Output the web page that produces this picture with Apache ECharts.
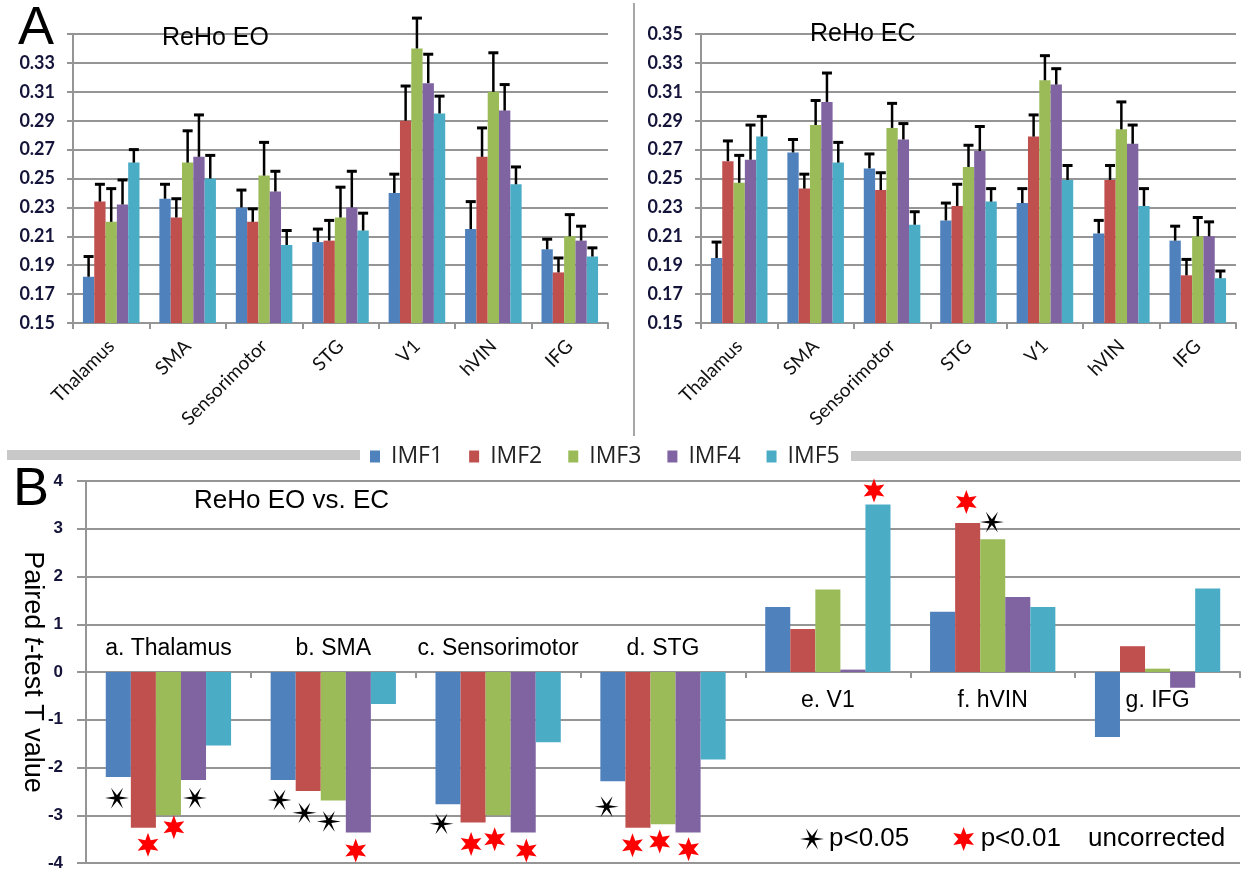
<!DOCTYPE html>
<html><head><meta charset="utf-8">
<script src="https://cdn.jsdelivr.net/npm/echarts@6/dist/echarts.min.js"></script>
<style>html,body{margin:0;padding:0;background:#fff}#c{width:1241px;height:869px}</style>
</head><body><div id="c"></div>
<script>
// ---------- data ----------
const regions = ['Thalamus', 'SMA', 'Sensorimotor', 'STG', 'V1', 'hVIN', 'IFG'];
const panelBLabels = ['a. Thalamus', 'b. SMA', 'c. Sensorimotor', 'd. STG', 'e. V1', 'f. hVIN', 'g. IFG'];
const imfNames = ['IMF1', 'IMF2', 'IMF3', 'IMF4', 'IMF5'];

// ReHo EO: mean per IMF (rows) and region (columns), and top of error bar
const eoMean = [
  [0.182, 0.236, 0.230, 0.206, 0.240, 0.215, 0.201],
  [0.234, 0.223, 0.220, 0.207, 0.290, 0.265, 0.185],
  [0.220, 0.261, 0.252, 0.223, 0.340, 0.310, 0.210],
  [0.232, 0.265, 0.241, 0.230, 0.316, 0.297, 0.207],
  [0.261, 0.250, 0.204, 0.214, 0.295, 0.246, 0.196]
];
const eoErrTop = [
  [0.196, 0.246, 0.242, 0.215, 0.253, 0.234, 0.208],
  [0.246, 0.236, 0.229, 0.221, 0.314, 0.285, 0.195],
  [0.243, 0.283, 0.275, 0.244, 0.361, 0.337, 0.225],
  [0.249, 0.294, 0.255, 0.255, 0.336, 0.315, 0.217],
  [0.270, 0.266, 0.214, 0.226, 0.307, 0.258, 0.202]
];
// ReHo EC
const ecMean = [
  [0.195, 0.268, 0.257, 0.221, 0.233, 0.212, 0.207],
  [0.262, 0.243, 0.242, 0.231, 0.279, 0.249, 0.183],
  [0.247, 0.287, 0.285, 0.258, 0.318, 0.284, 0.210],
  [0.263, 0.303, 0.277, 0.269, 0.315, 0.274, 0.210],
  [0.279, 0.261, 0.218, 0.234, 0.249, 0.231, 0.181]
];
const ecErrTop = [
  [0.206, 0.277, 0.267, 0.233, 0.243, 0.221, 0.217],
  [0.276, 0.253, 0.254, 0.246, 0.294, 0.259, 0.194],
  [0.266, 0.304, 0.302, 0.273, 0.335, 0.303, 0.223],
  [0.287, 0.323, 0.288, 0.286, 0.326, 0.287, 0.220],
  [0.293, 0.275, 0.227, 0.243, 0.259, 0.243, 0.186]
];
// Paired t-test T values (EO vs EC)
const tValues = [
  [-2.20, -2.26, -2.77, -2.29, 1.36, 1.26, -1.36],
  [-3.26, -2.49, -3.15, -3.26, 0.90, 3.12, 0.54],
  [-3.00, -2.69, -3.00, -3.19, 1.73, 2.78, 0.07],
  [-2.26, -3.36, -3.36, -3.36, 0.05, 1.57, -0.33],
  [-1.54, -0.67, -1.47, -1.83, 3.51, 1.36, 1.75]
];
// significance markers [region position, T]
const sigP05 = [[-0.312, -2.64], [0.161, -2.64], [0.674, -2.68], [0.825, -2.95], [0.973, -3.13],
                [1.656, -3.18], [2.658, -2.82], [4.995, 3.14]];
const sigP01 = [[-0.124, -3.62], [0.033, -3.25], [1.136, -3.74], [1.836, -3.60], [1.979, -3.50],
                [2.171, -3.74], [2.815, -3.63], [2.980, -3.55], [3.155, -3.71], [4.280, 3.80], [4.840, 3.56]];
// tick settings
const yTicksA = [0.15, 0.35, 0.02];
const yTicksB = [-4, 4, 1];

// ---------- styles ----------
const colors = ['#4F81BD', '#C0504D', '#9BBB59', '#8064A2', '#4BACC6'];
const gridLine = '#959595';
const gapA = 0.26, gapB = 0.24;
const labelBAbove = 0.48, labelBBelow = -0.59;

function starPath(rIn, a0) {
  let s = '';
  for (let i = 0; i < 12; i++) {
    const a = a0 + i * Math.PI / 6;
    const r = (i % 2) ? rIn : 1;
    s += (i ? 'L' : 'M') + (50 + 50 * r * Math.cos(a)).toFixed(2) + ' ' + (50 + 50 * r * Math.sin(a)).toFixed(2) + ' ';
  }
  return 'path://' + s + 'Z';
}
const asteriskSym = starPath(0.24, 0);
const starSym = starPath(0.45, -Math.PI / 2);

function errRender(gap) {
  return function (params, api) {
    const c = api.value(0), k = api.value(1), v = api.value(2), e = api.value(3);
    const band = api.size([1, 0])[0];
    const off = (-(1 - gap) / 2 + (1 - gap) / 5 * (k + 0.5)) * band;
    const p0 = api.coord([c, v]), p1 = api.coord([c, e]);
    const x = p0[0] + off;
    return {
      type: 'group', children: [
        { type: 'line', shape: { x1: x, y1: p0[1], x2: x, y2: p1[1] }, style: { stroke: '#000', lineWidth: 2.5 } },
        { type: 'line', shape: { x1: x - 5, y1: p1[1], x2: x + 5, y2: p1[1] }, style: { stroke: '#000', lineWidth: 3 } }
      ]
    };
  };
}
function errData(mean, top) {
  const d = [];
  for (let k = 0; k < 5; k++) for (let i = 0; i < regions.length; i++) d.push([i, k, mean[k][i], top[k][i]]);
  return d;
}

function catAxisTop(g) {
  return {
    type: 'category', gridIndex: g, data: regions, boundaryGap: true,
    axisLine: { show: true, lineStyle: { color: gridLine, width: 2 } },
    axisTick: { show: true, length: 6, interval: 0, lineStyle: { color: gridLine, width: 2 } },
    axisLabel: { interval: 0, rotate: 45, fontSize: 19, fontFamily: 'Lato', color: '#111', margin: 20 },
    splitLine: { show: false }
  };
}
function valAxisTop(g, hideTop) {
  return {
    type: 'value', gridIndex: g, min: yTicksA[0], max: yTicksA[1], interval: yTicksA[2], startValue: yTicksA[0],
    axisLine: { show: true, lineStyle: { color: gridLine, width: 2 } },
    axisTick: { show: true, length: 6, lineStyle: { color: gridLine, width: 2 } },
    splitLine: { show: true, lineStyle: { color: gridLine, width: 2 } },
    axisLabel: {
      margin: 18, fontSize: 18, fontWeight: 'bold', fontFamily: 'Lato', color: '#14143a',
      showMinLabel: true, showMaxLabel: true,
      formatter: v => (hideTop && Math.abs(v - yTicksA[1]) < 1e-6) ? '' : v.toFixed(2)
    }
  };
}

const series = [];
for (let k = 0; k < 5; k++) {
  series.push({ type: 'bar', name: imfNames[k], xAxisIndex: 0, yAxisIndex: 0, data: eoMean[k],
    itemStyle: { color: colors[k] }, barGap: '0%', barCategoryGap: (gapA * 100) + '%', silent: true });
}
for (let k = 0; k < 5; k++) {
  series.push({ type: 'bar', name: imfNames[k], xAxisIndex: 1, yAxisIndex: 1, data: ecMean[k],
    itemStyle: { color: colors[k] }, barGap: '0%', barCategoryGap: (gapA * 100) + '%', silent: true });
}
for (let k = 0; k < 5; k++) {
  series.push({ type: 'bar', name: imfNames[k], xAxisIndex: 2, yAxisIndex: 2, data: tValues[k],
    itemStyle: { color: colors[k] }, barGap: '0%', barCategoryGap: (gapB * 100) + '%', silent: true });
}
series.push({ type: 'custom', name: 'errEO', xAxisIndex: 0, yAxisIndex: 0, renderItem: errRender(gapA),
  data: errData(eoMean, eoErrTop), encode: { x: 0, y: 3 }, z: 5, silent: true, clip: false });
series.push({ type: 'custom', name: 'errEC', xAxisIndex: 1, yAxisIndex: 1, renderItem: errRender(gapA),
  data: errData(ecMean, ecErrTop), encode: { x: 0, y: 3 }, z: 5, silent: true, clip: false });
series.push({ type: 'scatter', name: 'p<0.05', xAxisIndex: 3, yAxisIndex: 2, data: sigP05,
  symbol: asteriskSym, symbolSize: 24, symbolKeepAspect: true, itemStyle: { color: '#000', opacity: 1 }, z: 6, silent: true });
series.push({ type: 'scatter', name: 'p<0.01', xAxisIndex: 3, yAxisIndex: 2, data: sigP01,
  symbol: starSym, symbolSize: 24, symbolKeepAspect: true, itemStyle: { color: '#ff0000', opacity: 1 }, z: 6, silent: true });
series.push({ type: 'scatter', name: 'labelsB', xAxisIndex: 3, yAxisIndex: 2, symbolSize: 0, silent: true, z: 7,
  itemStyle: { opacity: 1 },
  data: panelBLabels.map((n, i) => ({ name: n, value: [i, i < 4 ? labelBAbove : labelBBelow] })),
  label: { show: true, position: 'inside', formatter: '{b}', fontSize: 23, fontFamily: 'Liberation Sans', color: '#000', opacity: 1 } });

const titleStyle = { fontFamily: 'Liberation Sans', fontWeight: 'normal', color: '#000' };
const option = {
  animation: false,
  backgroundColor: '#fff',
  title: [
    { text: 'A', left: 18, top: 2, padding: 0, textStyle: Object.assign({ fontSize: 54 }, titleStyle) },
    { text: 'B', left: 13, top: 463, padding: 0, textStyle: Object.assign({ fontSize: 54 }, titleStyle) },
    { text: 'ReHo EO', left: 162, top: 26, padding: 0, textStyle: Object.assign({ fontSize: 25 }, titleStyle) },
    { text: 'ReHo EC', left: 810, top: 22, padding: 0, textStyle: Object.assign({ fontSize: 25 }, titleStyle) },
    { text: 'ReHo EO vs. EC', left: 194, top: 488, padding: 0, textStyle: Object.assign({ fontSize: 26 }, titleStyle) },
    { text: 'uncorrected', left: 1088, top: 826, padding: 0, textStyle: Object.assign({ fontSize: 26 }, titleStyle) }
  ],
  legend: [
    { data: imfNames, left: 370, top: 445, padding: 0, itemWidth: 10, itemHeight: 12, itemGap: 26, icon: 'rect',
      selectedMode: false, textStyle: { fontSize: 23, fontFamily: 'Open Sans', color: '#222', padding: [0, 0, 0, 6] } },
    { data: ['p<0.05', 'p<0.01'], left: 800, top: 826, padding: 0, itemWidth: 24, itemHeight: 24, itemGap: 44,
      selectedMode: false, textStyle: { fontSize: 26, fontFamily: 'Liberation Sans', color: '#000' } }
  ],
  grid: [
    { left: 73, top: 34, width: 535, height: 289, containLabel: false, outerBoundsMode: 'none' },
    { left: 701, top: 34, width: 535, height: 289, containLabel: false, outerBoundsMode: 'none' },
    { left: 86, top: 481, width: 1154, height: 382, containLabel: false, outerBoundsMode: 'none' }
  ],
  xAxis: [
    catAxisTop(0),
    catAxisTop(1),
    { type: 'category', gridIndex: 2, data: regions, boundaryGap: true,
      axisLine: { show: true, onZero: true, lineStyle: { color: gridLine, width: 2 } },
      axisTick: { show: true, length: 6, interval: 0, lineStyle: { color: gridLine, width: 2 } },
      axisLabel: { show: false }, splitLine: { show: false } },
    { type: 'value', gridIndex: 2, min: -0.5, max: 6.5, show: false }
  ],
  yAxis: [
    valAxisTop(0, true),
    valAxisTop(1, false),
    { type: 'value', gridIndex: 2, min: yTicksB[0], max: yTicksB[1], interval: yTicksB[2],
      name: '{n|Paired }{i|t}{n|-test T value}', nameLocation: 'middle', nameRotate: -90, nameGap: 40,
      nameMoveOverlap: false,
      nameTextStyle: { color: '#000', rich: {
        n: { fontSize: 27, fontFamily: 'Liberation Sans', color: '#000' },
        i: { fontSize: 27, fontFamily: 'Liberation Sans', fontStyle: 'italic', color: '#000' } } },
      axisLine: { show: true, onZero: false, lineStyle: { color: gridLine, width: 2 } },
      axisTick: { show: true, length: 9, lineStyle: { color: gridLine, width: 2 } },
      splitLine: { show: true, lineStyle: { color: gridLine, width: 2 } },
      axisLabel: { margin: 23, fontSize: 17, fontWeight: 'bold', fontFamily: 'Liberation Sans', color: '#14143a',
        showMinLabel: true, showMaxLabel: true } }
  ],
  graphic: [
    { type: 'line', shape: { x1: 634, y1: 3, x2: 634, y2: 436 }, style: { stroke: '#8a8a8a', lineWidth: 1.5 }, silent: true },
    { type: 'rect', shape: { x: 7, y: 450, width: 353, height: 10 }, style: { fill: '#c8c8c8' }, silent: true },
    { type: 'rect', shape: { x: 851, y: 451, width: 390, height: 10 }, style: { fill: '#c8c8c8' }, silent: true }
  ],
  series: series
};
const chart = echarts.init(document.getElementById('c'), null, { renderer: 'canvas' });
chart.setOption(option);
</script>
</body></html>
